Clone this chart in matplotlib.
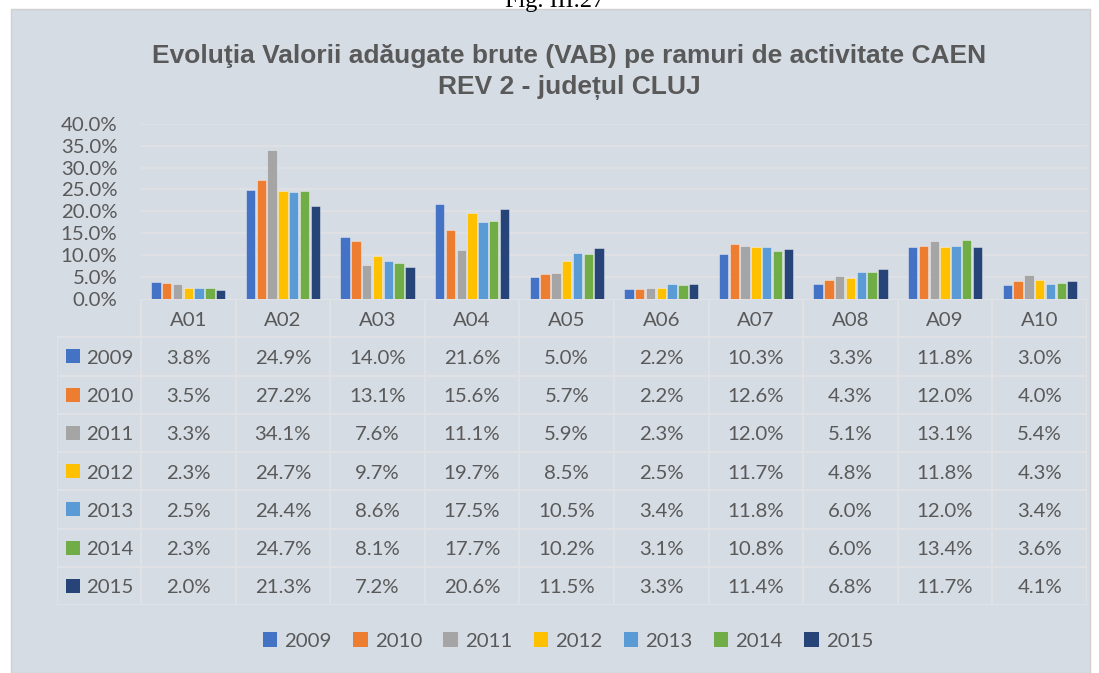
import matplotlib
matplotlib.use('Agg')
import matplotlib.pyplot as plt
from matplotlib.patches import Rectangle, Patch

# ---------------- data ----------------
categories = ['A01', 'A02', 'A03', 'A04', 'A05', 'A06', 'A07', 'A08', 'A09', 'A10']
years = ['2009', '2010', '2011', '2012', '2013', '2014', '2015']
v2009 = [3.8, 24.9, 14.0, 21.6, 5.0, 2.2, 10.3, 3.3, 11.8, 3.0]
v2010 = [3.5, 27.2, 13.1, 15.6, 5.7, 2.2, 12.6, 4.3, 12.0, 4.0]
v2011 = [3.3, 34.1, 7.6, 11.1, 5.9, 2.3, 12.0, 5.1, 13.1, 5.4]
v2012 = [2.3, 24.7, 9.7, 19.7, 8.5, 2.5, 11.7, 4.8, 11.8, 4.3]
v2013 = [2.5, 24.4, 8.6, 17.5, 10.5, 3.4, 11.8, 6.0, 12.0, 3.4]
v2014 = [2.3, 24.7, 8.1, 17.7, 10.2, 3.1, 10.8, 6.0, 13.4, 3.6]
v2015 = [2.0, 21.3, 7.2, 20.6, 11.5, 3.3, 11.4, 6.8, 11.7, 4.1]
series = [v2009, v2010, v2011, v2012, v2013, v2014, v2015]
yticks = [0, 5, 10, 15, 20, 25, 30, 35, 40]
title_lines = ['Evoluţia Valorii adăugate brute (VAB) pe ramuri de activitate CAEN',
               'REV 2 - județul CLUJ']
fig_caption = 'Fig. III.27'

colors = ['#4472C4', '#ED7D31', '#A5A5A5', '#FFC000', '#5B9BD5', '#70AD47', '#264478']
txt = '#595959'
bg = '#D6DCE4'
line_c = '#E1E2E4'
FONT = 'Lato'

W, H = 1099, 673
fig = plt.figure(figsize=(W / 100, H / 100), dpi=100)
fig.patch.set_facecolor('white')


def fx(x):
    return x / W


def fy(y):
    return 1 - y / H


# panel background
fig.patches.append(Rectangle((fx(11), 0), fx(1090) - fx(11), fy(9), transform=fig.transFigure,
                             facecolor=bg, edgecolor='#D0D0D0', lw=1, zorder=-10))

# caption (cut at top, as in the source)
fig.text(fx(555), fy(7), fig_caption, ha='center', va='baseline', fontsize=17.5,
         family='Liberation Serif', color='black')

# title
fig.text(fx(569), fy(56), title_lines[0], ha='center', va='center', fontsize=19,
         fontweight='bold', family='Liberation Sans', color=txt)
fig.text(fx(569), fy(88), title_lines[1], ha='center', va='center', fontsize=19,
         fontweight='bold', family='Liberation Sans', color=txt)

# ---------------- bar axes ----------------
x_left, x_right = 141, 1087
y_top, y_bot = 124, 298.5
ax = fig.add_axes([fx(x_left), fy(y_bot), fx(x_right) - fx(x_left), fy(y_top) - fy(y_bot)])
ax.set_facecolor('none')
ncat = len(categories)
ax.set_xlim(0, ncat)
ax.set_ylim(0, 40)
for s in ax.spines.values():
    s.set_visible(False)
ax.set_yticks(yticks)
ax.set_yticklabels([f'{t:.1f}%' for t in yticks], fontsize=14.7, color=txt, family=FONT)
ax.tick_params(axis='y', length=0, pad=17)
ax.set_xticks([])
for t in yticks[1:]:
    ax.axhline(t, color=line_c, lw=1.2, zorder=0)

group = 0.8
slot = group / len(series)
for k, vals in enumerate(series):
    xs = [i + 0.1 + slot * (k + 0.5) for i in range(ncat)]
    ax.bar(xs, vals, width=slot * 0.86, color=colors[k], edgecolor=(1, 1, 1, 0.45),
           lw=0.6, zorder=2)

# ---------------- data table ----------------
t_top, t_bot, t_left = 299, 605, 57
lab_w = (x_left - t_left) / ((x_right - x_left) / ncat)
tax = fig.add_axes([fx(t_left), fy(t_bot), fx(x_right) - fx(t_left), fy(t_top) - fy(t_bot)])
tax.set_xlim(-lab_w, ncat)
nrows = len(series) + 1
tax.set_ylim(nrows, 0)
tax.axis('off')

lw_t = 1.4
tax.plot([0, ncat], [0, 0], color=line_c, lw=lw_t)
for r in range(1, nrows + 1):
    tax.plot([-lab_w, ncat], [r, r], color=line_c, lw=lw_t)
tax.plot([-lab_w, -lab_w], [1, nrows], color=line_c, lw=lw_t)
for i in range(ncat + 1):
    tax.plot([i, i], [0, nrows], color=line_c, lw=lw_t)

unit = (x_right - x_left) / ncat  # px per category
row_px = (t_bot - t_top) / nrows
for i, c in enumerate(categories):
    tax.text(i + 0.5, 0.55, c, ha='center', va='center', fontsize=14.7, color=txt, family=FONT)
for k, (yr, vals) in enumerate(zip(years, series)):
    r = k + 1
    sq_w = 14 / unit
    sq_h = 14 / row_px
    tax.add_patch(Rectangle(((66 - x_left) / unit, r + 0.5 - sq_h / 2), sq_w, sq_h,
                            facecolor=colors[k], edgecolor='none'))
    tax.text((86 - x_left) / unit, r + 0.55, yr, ha='left', va='center', fontsize=14.7,
             color=txt, family=FONT)
    for i, v in enumerate(vals):
        tax.text(i + 0.5, r + 0.55, f'{v:.1f}%', ha='center', va='center', fontsize=14.7,
                 color=txt, family=FONT)

# ---------------- legend ----------------
handles = [Patch(facecolor=c, edgecolor='none', label=y) for c, y in zip(colors, years)]
leg = fig.legend(handles=handles, loc='center', bbox_to_anchor=(fx(568), fy(641)), ncol=7,
                 frameon=False, handlelength=0.7, handleheight=0.7, handletextpad=0.35,
                 columnspacing=1.05, prop={'family': FONT, 'size': 14.7})
for t in leg.get_texts():
    t.set_color(txt)

fig.savefig('out.png', dpi=100)
